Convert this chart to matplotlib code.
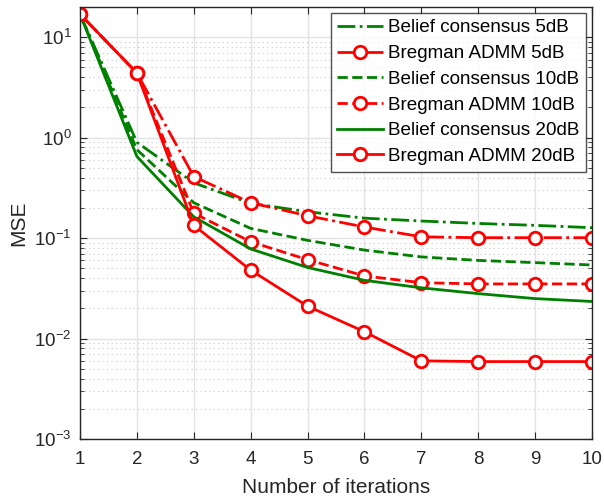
import matplotlib.pyplot as plt
from matplotlib.ticker import LogLocator, NullFormatter

plt.rcParams['font.family'] = ['Liberation Sans', 'DejaVu Sans']

# Data
iterations = [1, 2, 3, 4, 5, 6, 7, 8, 9, 10]
belief_5db = [17.0, 0.90, 0.355, 0.222, 0.183, 0.158, 0.148, 0.140, 0.134, 0.127]
bregman_5db = [17.0, 4.4, 0.41, 0.225, 0.167, 0.129, 0.103, 0.101, 0.101, 0.101]
belief_10db = [17.0, 0.76, 0.225, 0.125, 0.095, 0.076, 0.065, 0.060, 0.057, 0.054]
bregman_10db = [17.0, 4.4, 0.177, 0.092, 0.061, 0.042, 0.036, 0.035, 0.035, 0.035]
belief_20db = [17.0, 0.65, 0.163, 0.078, 0.051, 0.038, 0.032, 0.028, 0.025, 0.0234]
bregman_20db = [17.0, 4.4, 0.134, 0.048, 0.021, 0.0117, 0.0060, 0.0059, 0.0059, 0.0059]

green = (0, 0.5, 0)
red = (1, 0, 0)

fig = plt.figure(figsize=(6.04, 4.97), dpi=100)
ax = fig.add_axes([80 / 604, (497 - 439) / 497, 512 / 604, 432 / 497])

mk = dict(marker='o', markersize=9, markerfacecolor='white', markeredgewidth=2)
ax.semilogy(iterations, belief_5db, '-.', color=green, lw=2, label='Belief consensus 5dB')
ax.semilogy(iterations, bregman_5db, '-.', color=red, lw=2, label='Bregman ADMM 5dB', **mk)
ax.semilogy(iterations, belief_10db, '--', color=green, lw=2, label='Belief consensus 10dB')
ax.semilogy(iterations, bregman_10db, '--', color=red, lw=2, label='Bregman ADMM 10dB', **mk)
ax.semilogy(iterations, belief_20db, '-', color=green, lw=2, label='Belief consensus 20dB')
ax.semilogy(iterations, bregman_20db, '-', color=red, lw=2, label='Bregman ADMM 20dB', **mk)

ax.set_xlim(1, 10)
ax.set_ylim(1e-3, 20)
ax.set_xticks(iterations)
ax.yaxis.set_major_locator(LogLocator(base=10, numticks=10))
ax.yaxis.set_minor_locator(LogLocator(base=10, subs=range(2, 10), numticks=10))
ax.yaxis.set_minor_formatter(NullFormatter())

ax.grid(True, which='major', color='#e3e3e3', lw=1)
ax.grid(True, which='minor', axis='y', color='#c8c8c8', ls=(0, (1, 3)), lw=0.8)
ax.set_axisbelow(True)

ax.tick_params(which='both', direction='in', top=True, right=True, colors='#262626',
               labelsize=13.5, labelcolor='#262626')
ax.tick_params(which='major', length=5)
ax.tick_params(which='minor', length=3)
ax.tick_params(axis='x', pad=9)
ax.tick_params(axis='y', pad=6)
for s in ax.spines.values():
    s.set_color('#262626')
    s.set_linewidth(1)

ax.set_xlabel('Number of iterations', fontsize=15, color='#262626', labelpad=7)
ax.set_ylabel('MSE', fontsize=15, color='#262626', labelpad=4)

leg = ax.legend(loc='upper right', fontsize=13.6, frameon=True, fancybox=False,
                edgecolor='#262626', handlelength=2.4, handletextpad=0.3,
                labelspacing=0.45, borderpad=0.35, borderaxespad=0.3)
leg.get_frame().set_linewidth(1)

fig.savefig('out.png', dpi=100)
